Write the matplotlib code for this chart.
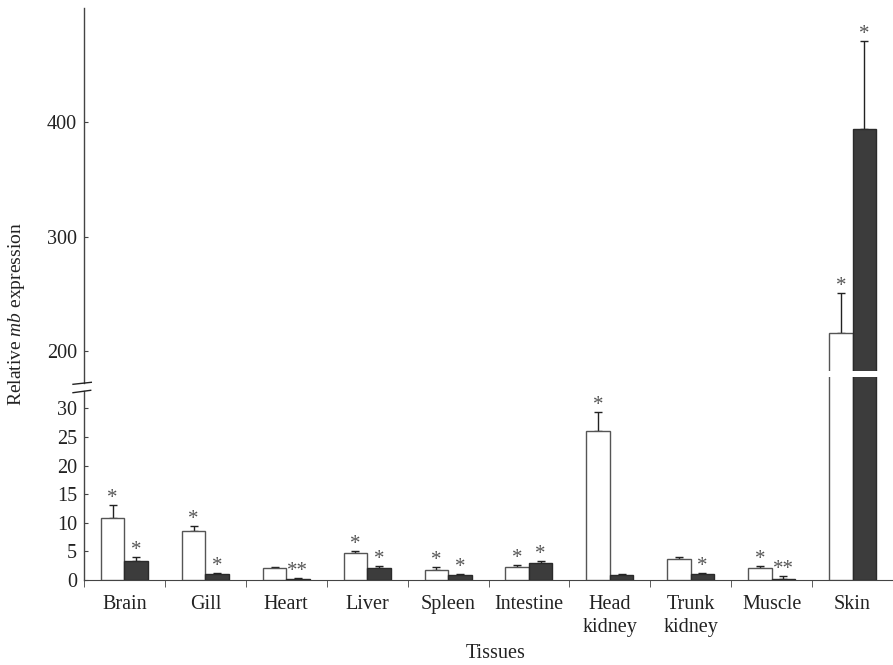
import numpy as np
import matplotlib
matplotlib.use("Agg")
import matplotlib.pyplot as plt
from matplotlib.lines import Line2D

plt.rcParams['font.family'] = ['Liberation Serif', 'DejaVu Serif']
plt.rcParams['mathtext.fontset'] = 'custom'
plt.rcParams['mathtext.rm'] = 'Liberation Serif'
plt.rcParams['mathtext.it'] = 'Liberation Serif:italic'

tissues = ["Brain", "Gill", "Heart", "Liver", "Spleen", "Intestine",
           "Head\nkidney", "Trunk\nkidney", "Muscle", "Skin"]
# white bars and their error-bar tops
white = [10.8, 8.6, 2.05, 4.7, 1.8, 2.2, 26.1, 3.6, 2.1, 215.7]
white_top = [13.05, 9.4, 2.2, 5.05, 2.2, 2.57, 29.3, 4.0, 2.45, 251]
# dark bars and their error-bar tops
dark = [3.4, 1.1, 0.23, 2.15, 0.81, 2.97, 0.81, 1.05, 0.23, 394]
dark_top = [4.0, 1.22, 0.35, 2.39, 0.99, 3.26, 0.99, 1.22, 0.7, 471]
# significance marks
white_sig = ["*", "*", "", "*", "*", "*", "*", "", "*", "*"]
dark_sig = ["*", "*", "**", "*", "*", "*", "", "*", "**", "*"]

FW, FH = 893, 665
def fx(p):
    return p / FW
def fy(p):
    return 1 - p / FH

fig = plt.figure(figsize=(FW / 100, FH / 100), dpi=100)
L = fx(84)
ax_lo = fig.add_axes([L, fy(580), 1 - L, (580 - 377) / FH])
ax_hi = fig.add_axes([L, fy(371), 1 - L, (371 - 8) / FH])

x = np.arange(len(tissues))
bw = 0.29
line_c = '#444444'
for ax in (ax_lo, ax_hi):
    ax.bar(x - bw / 2, white, bw, color='white', edgecolor='#555555', linewidth=1, zorder=3)
    ax.bar(x + bw / 2, dark, bw, color='#3c3c3c', edgecolor='#2a2a2a', linewidth=1, zorder=3)
    ax.errorbar(x - bw / 2, white, yerr=[np.zeros(len(x)), np.array(white_top) - np.array(white)],
                fmt='none', ecolor='#222222', elinewidth=1, capsize=3, capthick=1, zorder=2)
    ax.errorbar(x + bw / 2, dark, yerr=[np.zeros(len(x)), np.array(dark_top) - np.array(dark)],
                fmt='none', ecolor='#222222', elinewidth=1, capsize=3, capthick=1, zorder=2)
    ax.set_xlim(-0.5, 9.5)
    for s in ('top', 'right', 'left'):
        ax.spines[s].set_visible(False)
    ax.tick_params(axis='y', direction='in', length=3, color=line_c, labelsize=14.5,
                   labelcolor='#222222', pad=5)

ax_lo.set_ylim(0, 35.5)
ax_lo.set_yticks([0, 5, 10, 15, 20, 25, 30])
ax_hi.set_ylim(182.5, 500)
ax_hi.set_yticks([200, 300, 400])
ax_hi.spines['bottom'].set_visible(False)
ax_hi.set_xticks([])

ax_lo.spines['bottom'].set_color(line_c)
ax_lo.set_xticks(x)
ax_lo.set_xticklabels(tissues, fontsize=14.5, color='#222222', linespacing=1.25)
ax_lo.set_xticks(np.arange(-0.5, 9, 1), minor=True)
ax_lo.tick_params(axis='x', which='major', length=0, pad=11)
ax_lo.tick_params(axis='x', which='minor', direction='out', length=5, color=line_c)

# significance asterisks
for i in range(len(x)):
    for xs, top, sig in ((x[i] - bw / 2, white_top[i], white_sig[i]),
                         (x[i] + bw / 2, dark_top[i], dark_sig[i])):
        if not sig:
            continue
        ax = ax_hi if top > 100 else ax_lo
        ax.annotate(sig, (xs, top), xytext=(0, 1.5), textcoords='offset points',
                    ha='center', va='baseline', fontsize=15, color='#555555')

# broken y axis line
fig.add_artist(Line2D([L, L], [fy(8), fy(383)], color=line_c, lw=1))
fig.add_artist(Line2D([L, L], [fy(391), fy(580)], color=line_c, lw=1))
fig.add_artist(Line2D([fx(73), fx(91.3)], [fy(384.3), fy(382.3)], color='#222222', lw=1))
fig.add_artist(Line2D([fx(73), fx(90.7)], [fy(392.7), fy(390.3)], color='#222222', lw=1))

fig.text(fx(17), fy(314), r"Relative $\it{mb}$ expression", rotation=90,
         ha='center', va='center', fontsize=14, color='#222222')
fig.text(fx(496), fy(654), "Tissues", ha='center', va='center', fontsize=14.5, color='#222222')

fig.savefig("out.png", dpi=100)
